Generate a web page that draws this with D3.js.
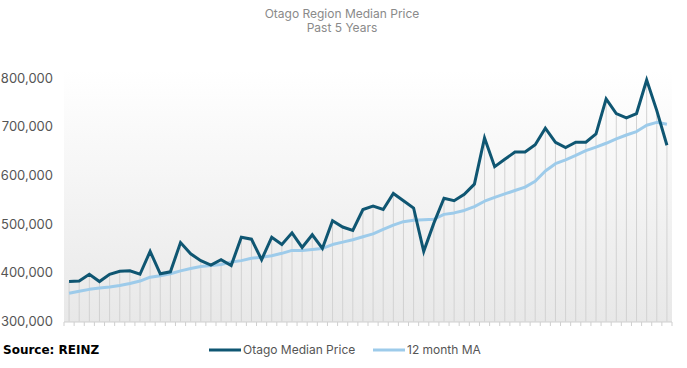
<!DOCTYPE html>
<html>
<head>
<meta charset="utf-8">
<script src="https://cdn.jsdelivr.net/npm/d3@7"></script>
<style>
  body { margin: 0; background: #fff; }
  svg { display: block; font-family: Inter, "Noto Sans", sans-serif; }
</style>
</head>
<body>
<svg width="687" height="368"></svg>
<script>
// monthly values, past 5 years (thousands of NZD)
var medianPrice = [382,383,397,382,397,403,404,397,444,398,402,462,439,425,416,427,415,473,469,427,
                   473,458,482,452,478,450,507,494,487,530,537,530,563,548,533,444,502,553,548,561,
                   582,677,618,633,648,648,663,697,668,657,668,668,685,757,727,718,727,796,733,662];
var movingAvg   = [358,362,366,369,371,374,378,383,391,394,398,404,409,413,415,417,422,425,430,432,
                   435,440,446,446,448,450,458,463,468,474,480,489,498,505,508,509,510,520,523,528,
                   536,547,555,562,569,576,588,609,624,632,641,651,658,666,675,683,690,703,709,705];
var yTicks = [300000, 400000, 500000, 600000, 700000, 800000];
var seriesNames = ["Otago Median Price", "12 month MA"];
var seriesColors = ["#0f5672", "#9dcbea"];

var svg = d3.select("svg");

var months = medianPrice.map(function(d, i) { return i; });

var x = d3.scaleBand()
    .domain(months)
    .range([64, 672]);

var y = d3.scaleLinear()
    .domain([300000, 800000])
    .range([321.5, 78]);

// plot background gradient
var grad = svg.append("defs").append("linearGradient")
    .attr("id", "bg")
    .attr("x1", 0).attr("y1", 0).attr("x2", 0).attr("y2", 1);
grad.append("stop").attr("offset", "0%").attr("stop-color", "#ffffff");
grad.append("stop").attr("offset", "100%").attr("stop-color", "#e8e8e8");

svg.append("rect")
    .attr("x", 64)
    .attr("y", 70)
    .attr("width", 608)
    .attr("height", 252)
    .attr("fill", "url(#bg)");

// title
svg.append("text")
    .attr("x", 342).attr("y", 18)
    .attr("text-anchor", "middle")
    .attr("font-size", 12)
    .attr("fill", "#8a8a8a")
    .text("Otago Region Median Price");
svg.append("text")
    .attr("x", 342).attr("y", 32)
    .attr("text-anchor", "middle")
    .attr("font-size", 12)
    .attr("fill", "#8a8a8a")
    .text("Past 5 Years");

// y labels
svg.append("g")
    .selectAll("text")
    .data(yTicks)
    .enter().append("text")
    .attr("x", 53)
    .attr("y", function(d) { return y(d); })
    .attr("dy", "0.35em")
    .attr("text-anchor", "end")
    .attr("font-size", 13)
    .attr("fill", "#555")
    .text(d3.format(","));

// drop lines from axis to median price
svg.append("g")
    .selectAll("line")
    .data(medianPrice)
    .enter().append("line")
    .attr("x1", function(d, i) { return x(i) + x.bandwidth() / 2; })
    .attr("x2", function(d, i) { return x(i) + x.bandwidth() / 2; })
    .attr("y1", y(300000))
    .attr("y2", function(d) { return y(d * 1000); })
    .attr("stroke", "#d2d2d2")
    .attr("stroke-width", 1);

// x axis with ticks between months
var xAxis = svg.append("g")
    .attr("transform", "translate(0," + 322 + ")");
xAxis.append("line")
    .attr("x1", 64).attr("x2", 672)
    .attr("stroke", "#cfcfcf");
xAxis.selectAll(".tick")
    .data(months.concat([months.length]))
    .enter().append("line")
    .attr("class", "tick")
    .attr("x1", function(d) { return 64 + d * x.step(); })
    .attr("x2", function(d) { return 64 + d * x.step(); })
    .attr("y1", 0).attr("y2", 4)
    .attr("stroke", "#cfcfcf");

var line = d3.line()
    .x(function(d, i) { return x(i) + x.bandwidth() / 2; })
    .y(function(d) { return y(d * 1000); });

svg.append("path")
    .datum(movingAvg)
    .attr("fill", "none")
    .attr("stroke", seriesColors[1])
    .attr("stroke-width", 3)
    .attr("stroke-linejoin", "round")
    .attr("d", line);

svg.append("path")
    .datum(medianPrice)
    .attr("fill", "none")
    .attr("stroke", seriesColors[0])
    .attr("stroke-width", 3)
    .attr("stroke-linejoin", "miter")
    .attr("d", line);

// source
svg.append("text")
    .attr("x", 3).attr("y", 354)
    .attr("font-family", "'DejaVu Sans', sans-serif")
    .attr("font-size", 12)
    .attr("font-weight", "bold")
    .attr("fill", "#000")
    .text("Source: REINZ");

// legend
var legendX = [209, 373];
var legend = svg.append("g")
    .selectAll("g")
    .data(seriesNames)
    .enter().append("g")
    .attr("transform", function(d, i) { return "translate(" + legendX[i] + ",350)"; });
legend.append("line")
    .attr("x1", 0).attr("x2", 32)
    .attr("stroke", function(d, i) { return seriesColors[i]; })
    .attr("stroke-width", 3);
legend.append("text")
    .attr("x", 34)
    .attr("dy", "0.35em")
    .attr("font-size", 12)
    .attr("fill", "#555")
    .text(function(d) { return d; });
</script>
</body>
</html>
